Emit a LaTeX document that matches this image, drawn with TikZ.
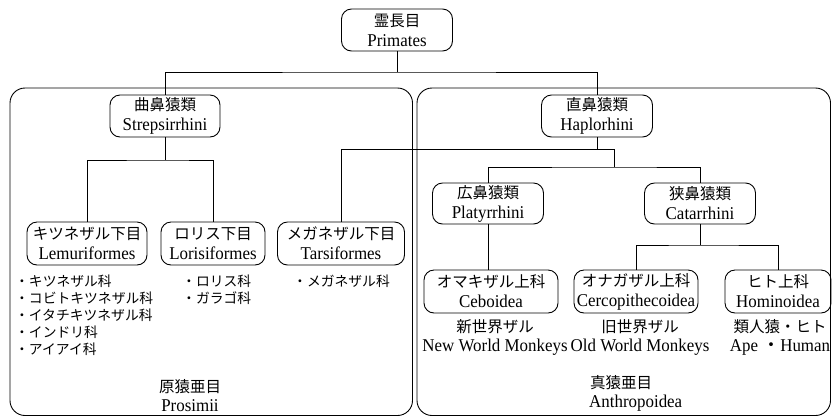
\documentclass[tikz,border=0pt]{standalone}
\usepackage{fontspec}
\setmainfont[FakeStretch=0.94]{Liberation Serif}
\newfontfamily\jp{Noto Sans CJK JP}
\begin{document}
\begin{tikzpicture}[x=1pt,y=-1pt,
  box/.style={draw, line width=0.9pt, rounded corners=10pt, minimum height=42pt, inner sep=0pt, align=center, font=\fontsize{18}{20}\selectfont},
  lbl/.style={align=center, inner sep=0pt, font=\fontsize{18}{19}\selectfont},
  lst/.style={align=left, inner sep=0pt, anchor=north west, font=\jp\fontsize{13.8}{16.8}\selectfont},
  jpt/.style={font=\jp\fontsize{15.5}{20}\selectfont},
  conn/.style={line width=0.9pt}]
\useasboundingbox (0,0) rectangle (832,416);
% group frames
\draw[conn, rounded corners=15pt] (10,88) rectangle (412.5,415.5);
\draw[conn, rounded corners=15pt] (417,88) rectangle (830.5,415.5);
% nodes
\node[box, minimum width=111pt] (prim) at (397,30) {{\jp\fontsize{15.5}{20}\selectfont 霊長目}\\Primates};
\node[box, minimum width=110pt] (strep) at (165,116) {{\jp\fontsize{15.5}{20}\selectfont 曲鼻猿類}\\Strepsirrhini};
\node[box, minimum width=111pt] (hap) at (597,116) {{\jp\fontsize{15.5}{20}\selectfont 直鼻猿類}\\Haplorhini};
\node[box, minimum width=120pt, minimum height=43pt] (lem) at (87,243.5) {{\jp\fontsize{15.5}{20}\selectfont キツネザル下目}\\Lemuriformes};
\node[box, minimum width=104pt, minimum height=43pt] (lor) at (213,243.5) {{\jp\fontsize{15.5}{20}\selectfont ロリス下目}\\Lorisiformes};
\node[box, minimum width=127pt, minimum height=43pt] (tar) at (341,243.5) {{\jp\fontsize{15.5}{20}\selectfont メガネザル下目}\\Tarsiformes};
\node[box, minimum width=111pt, minimum height=41pt] (platy) at (488,203.5) {{\jp\fontsize{15.5}{20}\selectfont 広鼻猿類}\\Platyrrhini};
\node[box, minimum width=111pt, minimum height=41pt] (cat) at (700,203.5) {{\jp\fontsize{15.5}{20}\selectfont 狭鼻猿類}\\Catarrhini};
\node[box, minimum width=134pt, minimum height=43pt] (cebo) at (491,291.5) {{\jp\fontsize{15.5}{20}\selectfont オマキザル上科}\\Ceboidea};
\node[box, minimum width=124pt, minimum height=43pt] (cerco) at (636,291.5) {{\jp\fontsize{15.5}{20}\selectfont オナガザル上科}\\Cercopithecoidea};
\node[box, minimum width=106pt, minimum height=43pt] (homi) at (778,291.5) {{\jp\fontsize{15.5}{20}\selectfont ヒト上科}\\Hominoidea};
% labels
\node[lbl] (nwm) at (495,337.5) {{\jp\fontsize{15.5}{19}\selectfont 新世界ザル}\\New World Monkeys};
\node[lbl] (owm) at (640,337.5) {{\jp\fontsize{15.5}{19}\selectfont 旧世界ザル}\\Old World Monkeys};
\node[lbl] (ape) at (780,337.5) {{\jp\fontsize{15.5}{19}\selectfont 類人猿・ヒト}\\Ape\ {\jp ・}Human};
\node[lbl] (pros) at (190,395.5) {{\jp\fontsize{15.5}{19}\selectfont 原猿亜目}\\Prosimii};
\node[lbl, align=left, anchor=west] (anth) at (589,393) {\hspace{1pt}{\jp\fontsize{15.5}{19}\selectfont 真猿亜目}\\Anthropoidea};
\node[lst] (l1) at (15,275) {・キツネザル科\\・コビトキツネザル科\\・イタチキツネザル科\\・インドリ科\\・アイアイ科};
\node[lst] (l2) at (182,275) {・ロリス科\\・ガラゴ科};
\node[lst] (l3) at (293,275) {・メガネザル科};
% connectors
\coordinate (j1) at (prim.south |- 0,72);
\draw[conn] (prim.south) -- (j1);
\draw[conn] (strep.north) |- (j1) -| (hap.north);
\coordinate (j2) at (strep.south |- 0,160);
\draw[conn] (strep.south) -- (j2);
\draw[conn] (lem.north) |- (j2) -| (lor.north);
\coordinate (j3) at (hap.south |- 0,149);
\coordinate (j4) at (614,149);
\coordinate (j5) at (614,167);
\draw[conn] (hap.south) -- (j3);
\draw[conn] (tar.north) |- (j4) -- (j5);
\draw[conn] (platy.north) |- (j5) -| (cat.north);
\draw[conn] (platy.south) -- (cebo.north -| platy.south);
\coordinate (j6) at (cat.south |- 0,245);
\draw[conn] (cat.south) -- (j6);
\draw[conn] (cerco.north) |- (j6) -| (homi.north);
\end{tikzpicture}
\end{document}
